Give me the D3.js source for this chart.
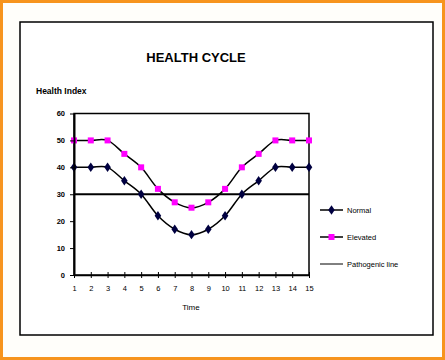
<!DOCTYPE html>
<html><head><meta charset="utf-8">
<script src="https://cdn.jsdelivr.net/npm/d3@7"></script>
<style>body{margin:0;background:#fff}svg{display:block}</style>
</head><body>
<script>
const times = [1,2,3,4,5,6,7,8,9,10,11,12,13,14,15];
const normal = [40,40,40,35,30,22,17,15,17,22,30,35,40,40,40];
const elevated = [50,50,50,45,40,32,27,25,27,32,40,45,50,50,50];
const pathogenic = 30;
const yTicks = [0,10,20,30,40,50,60];
const seriesNames = ["Normal","Elevated","Pathogenic line"];

const W=445,H=360;
const svg=d3.select("body").append("svg").attr("width",W).attr("height",H);
svg.append("rect").attr("x",1.5).attr("y",1.5).attr("width",W-3).attr("height",H-3)
  .attr("fill","#fffefa").attr("stroke","#f7941d").attr("stroke-width",3);
svg.append("rect").attr("x",20).attr("y",22).attr("width",413).attr("height",313)
  .attr("fill","#fff").attr("stroke","#000").attr("stroke-width",1.5);

const x=d3.scaleLinear().domain([1,15]).range([74,309]);
const y=d3.scaleLinear().domain([0,60]).range([275,113.5]);

svg.append("text").attr("x",196).attr("y",62).attr("text-anchor","middle")
  .attr("font-family","Liberation Sans, Arial").attr("font-weight","bold").attr("font-size",13).text("HEALTH CYCLE");
svg.append("text").attr("x",36).attr("y",94).attr("font-family","Liberation Sans, Arial")
  .attr("font-weight","bold").attr("font-size",8.5).text("Health Index");
svg.append("text").attr("x",191).attr("y",310).attr("text-anchor","middle").attr("font-family","Liberation Sans, Arial")
  .attr("font-size",8).text("Time");

const g=svg.append("g");
g.append("rect").attr("x",x(1)).attr("y",y(60)).attr("width",x(15)-x(1)).attr("height",y(0)-y(60))
  .attr("fill","none").attr("stroke","#000").attr("stroke-width",1.5);

const yAxis=d3.axisLeft(y).tickValues(yTicks).tickSize(4).tickSizeOuter(0);
const ya=svg.append("g").attr("transform",`translate(${x(1)},0)`).call(yAxis);
ya.select(".domain").attr("stroke-width",2);
ya.selectAll("text").attr("font-family","Liberation Sans, Arial").attr("font-weight","bold").attr("font-size",7.5).attr("dx",-2);

const xAxis=d3.axisBottom(x).tickValues(times).tickSize(3).tickSizeOuter(0).tickFormat(d3.format("d"));
const xa=svg.append("g").attr("transform",`translate(0,${y(0)})`).call(xAxis);
xa.select(".domain").attr("stroke-width",1.5);
xa.selectAll(".tick line").attr("y1",-3);
xa.selectAll("text").attr("font-family","Liberation Sans, Arial").attr("font-size",7.5).attr("dy","1.3em");

g.append("line").attr("x1",x(1)).attr("x2",x(15)).attr("y1",y(pathogenic)).attr("y2",y(pathogenic))
  .attr("stroke","#000").attr("stroke-width",2);

const line=d3.line().x((d,i)=>x(times[i])).y(d=>y(d)).curve(d3.curveCatmullRom.alpha(0));
g.append("path").datum(elevated).attr("d",line).attr("fill","none").attr("stroke","#000").attr("stroke-width",1.5);
g.append("path").datum(normal).attr("d",line).attr("fill","none").attr("stroke","#000").attr("stroke-width",1.5);

const diamond=d3.symbol().type(d3.symbolDiamond).size(26);
g.selectAll(".n").data(normal).join("path").attr("transform",(d,i)=>`translate(${x(times[i])},${y(d)}) scale(1.2,1)`)
  .attr("d",diamond).attr("fill","#000040");
g.selectAll(".e").data(elevated).join("rect").attr("x",(d,i)=>x(times[i])-3).attr("y",d=>y(d)-3)
  .attr("width",6).attr("height",6).attr("fill","#ff00ff");

const ly=[210,237,264];
const lg=svg.append("g");
ly.forEach((yy,i)=>{
  lg.append("line").attr("x1",320).attr("x2",343).attr("y1",yy).attr("y2",yy).attr("stroke","#000").attr("stroke-width",i<2?1.5:1);
  lg.append("text").attr("x",347).attr("y",yy+3).attr("font-family","Liberation Sans, Arial").attr("font-size",7.5).text(seriesNames[i]);
});
lg.append("path").attr("transform",`translate(331.5,${ly[0]}) scale(1.2,1)`).attr("d",diamond).attr("fill","#000040");
lg.append("rect").attr("x",328.5).attr("y",ly[1]-3).attr("width",6).attr("height",6).attr("fill","#ff00ff");
</script>
</body></html>
